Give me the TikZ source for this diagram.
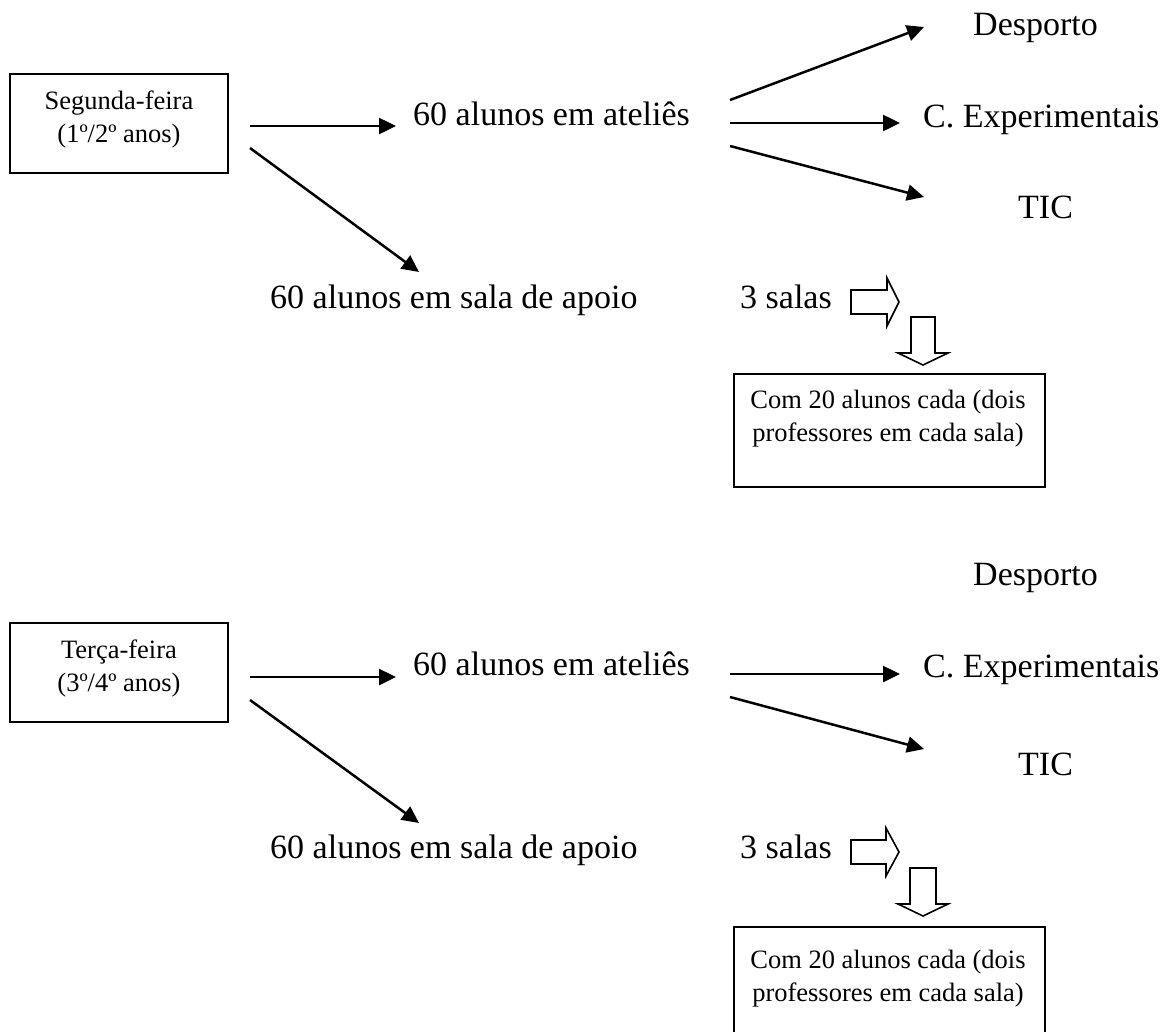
\documentclass[tikz,border=0pt]{standalone}
\usepackage{fontspec}
\setmainfont{Liberation Serif}
\usetikzlibrary{arrows.meta}
\tikzset{
  big/.style={font=\fontsize{34}{40}\selectfont, inner sep=0pt},
  small/.style={font=\fontsize{26.5}{33}\selectfont, inner sep=0pt, align=center},
  daybox/.style={draw, line width=2pt, minimum width=218pt, minimum height=99pt, inner sep=0pt},
  roombox/.style={draw, line width=1.8pt, anchor=north west, minimum width=311pt, minimum height=113pt, inner sep=0pt},
  conn/.style={line width=2.5pt, -{Triangle[length=17pt,width=16pt]}},
  blockarrow/.style={draw, line width=1.6pt, fill=white, line join=miter}
}
\begin{document}
\begin{tikzpicture}[x=1pt,y=-1pt]
\useasboundingbox (0,0) rectangle (1166,1031);
\clip (0,0) rectangle (1166,1031);

% ---------- Monday block ----------
\node[daybox] (mon) at (119,123.5) {};
\node[small] (montxt) at (119,119) {Segunda-feira\\(1º/2º anos)};

\node[big, anchor=base west] (at1) at (413,125) {60 alunos em ateliês};
\node[big, anchor=base west] (ap1) at (270,308) {60 alunos em sala de apoio};
\node[big, anchor=base west] (sal1) at (740,308) {3 salas};

\node[big, anchor=base west] (des1) at (973,35) {Desporto};
\node[big, anchor=base west] (exp1) at (923,127) {C. Experimentais};
\node[big, anchor=base west] (tic1) at (1018,218) {TIC};

\coordinate (m1a) at (250,126);
\coordinate (m1b) at (396,126);
\coordinate (m2a) at (250,148);
\coordinate (m2b) at (419,272);
\draw[conn] (m1a) -- (m1b);
\draw[conn] (m2a) -- (m2b);

\coordinate (r1a) at (730,100);
\coordinate (r1b) at (924,27);
\coordinate (r2a) at (730,123);
\coordinate (r2b) at (900,123);
\coordinate (r3a) at (730,146);
\coordinate (r3b) at (924,197);
\draw[conn] (r1a) -- (r1b);
\draw[conn] (r2a) -- (r2b);
\draw[conn] (r3a) -- (r3b);

\draw[blockarrow] (851,290) -- (887,290) -- (887,278) -- (899,302) -- (887,326) -- (887,314) -- (851,314) -- cycle;
\draw[blockarrow] (911,317) -- (935,317) -- (935,353) -- (948,353) -- (923,365) -- (898,353) -- (911,353) -- cycle;

\node[roombox] (room1) at (733,373) {};
\node[small] (room1txt) at (888,419) {Com 20 alunos cada (dois\\professores em cada sala)};

% ---------- Tuesday block ----------
\node[daybox] (tue) at (119,672) {};
\node[small] (tuetxt) at (119,668) {Terça-feira\\(3º/4º anos)};

\node[big, anchor=base west] (at2) at (413,675) {60 alunos em ateliês};
\node[big, anchor=base west] (ap2) at (270,858) {60 alunos em sala de apoio};
\node[big, anchor=base west] (sal2) at (740,858) {3 salas};

\node[big, anchor=base west] (des2) at (973,585) {Desporto};
\node[big, anchor=base west] (exp2) at (923,677) {C. Experimentais};
\node[big, anchor=base west] (tic2) at (1018,775) {TIC};

\coordinate (t1a) at (250,677);
\coordinate (t1b) at (396,677);
\coordinate (t2a) at (250,700);
\coordinate (t2b) at (419,823);
\draw[conn] (t1a) -- (t1b);
\draw[conn] (t2a) -- (t2b);

\coordinate (s2a) at (730,674);
\coordinate (s2b) at (900,674);
\coordinate (s3a) at (730,697);
\coordinate (s3b) at (924,749);
\draw[conn] (s2a) -- (s2b);
\draw[conn] (s3a) -- (s3b);

\draw[blockarrow] (851,840) -- (886,840) -- (886,828) -- (899,852) -- (886,876) -- (886,864) -- (851,864) -- cycle;
\draw[blockarrow] (910,868) -- (936,868) -- (936,904) -- (948,904) -- (923,916) -- (898,904) -- (910,904) -- cycle;

\node[roombox, minimum height=130pt] (room2) at (733,926) {};
\node[small] (room2txt) at (888,979) {Com 20 alunos cada (dois\\professores em cada sala)};
\end{tikzpicture}
\end{document}
